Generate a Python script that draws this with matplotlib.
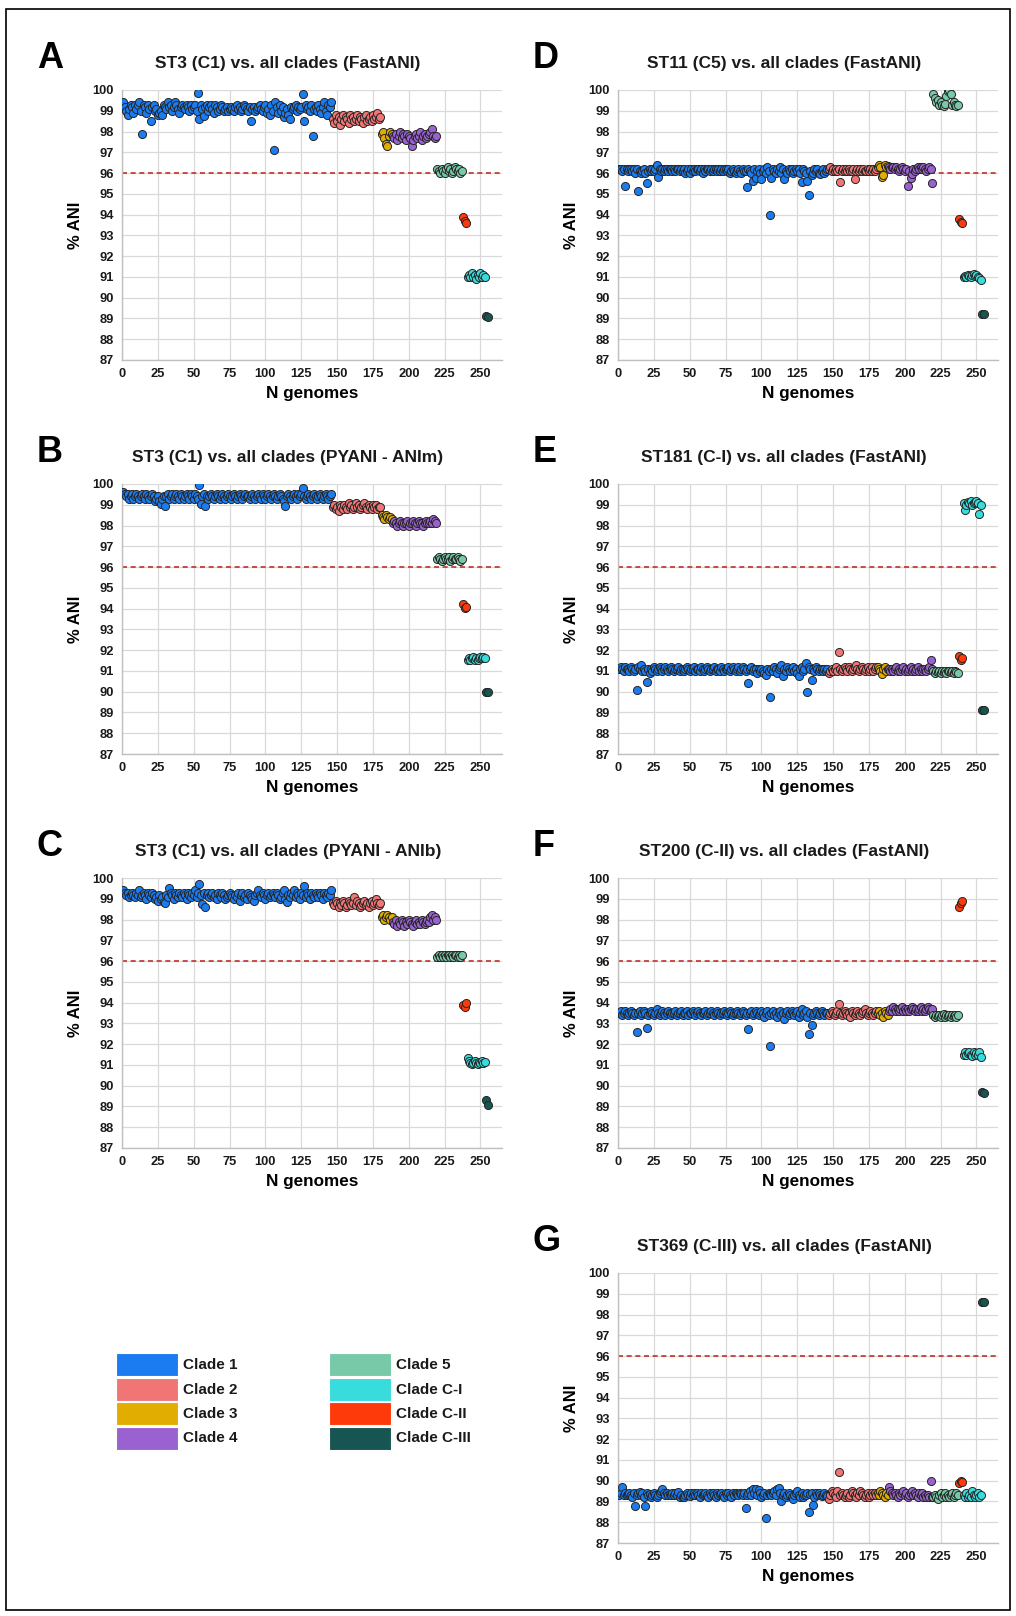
import matplotlib
matplotlib.use("Agg")
import matplotlib.pyplot as plt
import numpy as np
from matplotlib.patches import Rectangle

plt.rcParams['font.family'] = ['Liberation Sans', 'DejaVu Sans']

W, H = 1016, 1616

clades = ["Clade 1", "Clade 2", "Clade 3", "Clade 4", "Clade 5", "Clade C-I", "Clade C-II", "Clade C-III"]
# order of the genomes along x: 1, 2, 3, 4, 5, C-II, C-I, C-III
x_order = ["Clade 1", "Clade 2", "Clade 3", "Clade 4", "Clade 5", "Clade C-II", "Clade C-I", "Clade C-III"]
colors = {"Clade 1": "#1a7cf0", "Clade 2": "#f07575", "Clade 3": "#e0ad00", "Clade 4": "#9a62d0",
          "Clade 5": "#78c9a8", "Clade C-I": "#38dcdc", "Clade C-II": "#ff3a0a", "Clade C-III": "#175552"}

titles = {
    "A": "ST3 (C1) vs. all clades (FastANI)",
    "B": "ST3 (C1) vs. all clades (PYANI - ANIm)",
    "C": "ST3 (C1) vs. all clades (PYANI - ANIb)",
    "D": "ST11 (C5) vs. all clades (FastANI)",
    "E": "ST181 (C-I) vs. all clades (FastANI)",
    "F": "ST200 (C-II) vs. all clades (FastANI)",
    "G": "ST369 (C-III) vs. all clades (FastANI)",
}

# % ANI per clade (in x order)
ani_A = [
    [99.4, 99.2, 99.0, 98.8, 99.1, 99.3, 99.2, 98.9, 99.3, 99.1, 99.3, 99.4, 99.0, 97.9, 99.3,
     99.2, 98.9, 99.3, 99.1, 98.5, 99.2, 99.3, 99.0, 99.1, 98.8, 98.9, 99.0, 98.8, 99.3, 99.2,
     99.1, 99.4, 99.2, 99.3, 99.0, 99.2, 99.4, 99.3, 99.1, 98.9, 99.2, 99.3, 99.2, 99.1, 99.3,
     99.2, 99.0, 99.3, 99.1, 99.2, 99.3, 99.0, 99.85, 98.6, 99.3, 99.1, 98.75, 99.2, 99.3, 99.0,
     99.2, 99.3, 99.1, 98.9, 99.3, 99.2, 99.0, 99.1, 99.3, 99.2, 99.0, 99.1, 99.2, 99.0, 99.1,
     99.2, 99.1, 99.0, 99.2, 99.3, 99.1, 99.2, 99.0, 99.1, 99.3, 99.2, 99.1, 99.0, 99.2, 98.5,
     99.1, 99.2, 99.0, 99.1, 99.2, 99.3, 99.1, 99.0, 99.2, 99.3, 98.9, 99.1, 98.8, 99.3, 99.0,
     97.1, 99.4, 99.2, 98.9, 99.3, 99.0, 99.2, 98.7, 98.9, 99.1, 98.8, 98.6, 99.2, 99.1, 99.2,
     99.3, 99.0, 99.2, 99.1, 99.2, 99.8, 98.5, 99.3, 99.1, 99.2, 99.0, 99.3, 97.8, 99.1, 99.2,
     99.0, 99.3, 99.1, 98.9, 99.2, 99.4, 99.0, 98.8, 99.3, 99.2, 99.4],
    [98.6, 98.4, 98.8, 98.5, 98.7, 98.3, 98.6, 98.8, 98.5, 98.7, 98.6, 98.4, 98.8, 98.6, 98.7,
     98.5, 98.6, 98.8, 98.5, 98.7, 98.6, 98.4, 98.7, 98.8, 98.5, 98.6, 98.7, 98.5, 98.8, 98.6,
     98.7, 98.9, 98.6, 98.7],
    [97.9, 98.0, 97.7, 97.4, 97.3, 97.8, 98.0, 97.9],
    [97.8, 97.7, 97.9, 97.6, 97.8, 98.0, 97.7, 97.9, 97.8, 97.6, 97.9, 97.8, 97.7, 97.3, 97.6,
     97.8, 97.9, 97.7, 97.8, 98.0, 97.6, 97.8, 97.9, 97.7, 97.8, 97.9, 98.0, 98.1, 97.8, 97.7, 97.8],
    [96.2, 96.1, 96.0, 96.2, 96.1, 96.0, 96.2, 96.3, 96.1, 96.2, 96.0, 96.1, 96.3, 96.2, 96.1,
     96.2, 96.0, 96.1],
    [93.9, 93.7, 93.6],
    [91.0, 91.1, 91.0, 91.2, 91.0, 91.1, 90.9, 91.1, 91.0, 91.2, 91.0, 91.1, 91.0],
    [89.1, 89.05],
]

ani_B = [
    [99.6, 99.5, 99.4, 99.5, 99.3, 99.4, 99.5, 99.3, 99.4, 99.5, 99.4, 99.3, 99.4, 99.5, 99.4,
     99.3, 99.5, 99.4, 99.3, 99.4, 99.5, 99.4, 99.2, 99.3, 99.4, 99.2, 99.05, 99.3, 99.4, 98.95,
     99.4, 99.5, 99.3, 99.4, 99.5, 99.3, 99.4, 99.5, 99.4, 99.3, 99.5, 99.4, 99.3, 99.4, 99.5,
     99.4, 99.3, 99.5, 99.4, 99.3, 99.5, 99.4, 99.3, 99.95, 99.05, 99.4, 99.5, 98.95, 99.4, 99.3,
     99.4, 99.5, 99.4, 99.3, 99.4, 99.5, 99.4, 99.3, 99.4, 99.5, 99.4, 99.3, 99.4, 99.5, 99.4,
     99.3, 99.4, 99.5, 99.4, 99.3, 99.4, 99.5, 99.4, 99.3, 99.4, 99.5, 99.4, 99.4, 99.3, 99.4,
     99.5, 99.4, 99.3, 99.4, 99.5, 99.4, 99.3, 99.5, 99.4, 99.3, 99.4, 99.5, 99.4, 99.3, 99.4,
     99.5, 99.4, 99.3, 99.4, 99.5, 99.4, 99.3, 99.2, 98.95, 99.4, 99.5, 99.4, 99.3, 99.4, 99.5,
     99.4, 99.3, 99.5, 99.4, 99.5, 99.8, 99.4, 99.3, 99.4, 99.5, 99.4, 99.3, 99.4, 99.5, 99.4,
     99.3, 99.4, 99.5, 99.4, 99.3, 99.4, 99.5, 99.4, 99.3, 99.4, 99.5],
    [98.9, 99.0, 98.8, 98.9, 98.7, 99.0, 98.9, 98.8, 99.0, 98.9, 98.8, 99.1, 98.9, 99.0, 98.8,
     98.9, 99.1, 98.9, 99.0, 98.8, 98.9, 99.0, 99.1, 98.9, 98.8, 99.0, 98.9, 98.8, 99.0, 98.9,
     99.0, 98.8, 98.9, 98.9],
    [98.5, 98.4, 98.3, 98.5, 98.4, 98.3, 98.4, 98.3],
    [98.1, 98.2, 98.1, 98.0, 98.1, 98.2, 98.1, 98.0, 98.1, 98.1, 98.2, 98.0, 98.1, 98.1, 98.2,
     98.1, 98.0, 98.1, 98.2, 98.1, 98.1, 98.0, 98.1, 98.2, 98.1, 98.1, 98.2, 98.1, 98.3, 98.2, 98.1],
    [96.4, 96.5, 96.4, 96.3, 96.4, 96.5, 96.4, 96.4, 96.5, 96.3, 96.4, 96.5, 96.4, 96.4, 96.5,
     96.4, 96.3, 96.4],
    [94.2, 94.05, 94.1],
    [91.55, 91.6, 91.55, 91.6, 91.65, 91.55, 91.6, 91.55, 91.6, 91.65, 91.6, 91.65, 91.6],
    [90.0, 90.0],
]

ani_C = [
    [99.4, 99.3, 99.2, 99.3, 99.1, 99.2, 99.3, 99.2, 99.1, 99.3, 99.2, 99.4, 99.1, 99.2, 99.3,
     99.2, 99.0, 99.3, 99.2, 99.1, 99.3, 99.2, 99.0, 99.1, 98.9, 99.2, 99.0, 99.1, 98.85, 98.8,
     99.2, 99.1, 99.5, 99.3, 99.2, 99.0, 99.3, 99.2, 99.1, 99.3, 99.2, 99.1, 99.3, 99.2, 99.0,
     99.3, 99.2, 99.1, 99.3, 99.2, 99.4, 99.1, 99.3, 99.7, 99.2, 98.75, 99.3, 98.6, 99.2, 99.3,
     99.1, 99.2, 99.3, 99.1, 99.2, 99.0, 99.3, 99.2, 99.1, 99.3, 99.2, 99.0, 99.1, 99.2, 99.3,
     99.2, 99.1, 99.0, 99.2, 99.1, 99.3, 98.9, 99.2, 99.3, 99.1, 99.2, 99.0, 99.3, 99.2, 99.1,
     99.0, 98.9, 99.2, 99.3, 99.4, 99.2, 99.1, 99.3, 99.2, 99.0, 99.2, 99.3, 99.1, 99.2, 99.3,
     99.2, 99.1, 99.3, 99.2, 99.0, 99.1, 99.3, 99.4, 99.0, 98.85, 99.2, 99.1, 99.3, 99.2, 99.4,
     99.1, 99.3, 99.2, 99.0, 99.3, 99.2, 99.6, 99.1, 99.3, 99.2, 99.0, 99.3, 99.2, 99.1, 99.3,
     99.2, 99.1, 99.3, 99.2, 99.0, 99.3, 99.2, 99.1, 99.3, 99.2, 99.4],
    [98.8, 98.7, 98.9, 98.8, 98.6, 98.8, 98.7, 98.9, 98.8, 98.6, 98.7, 98.9, 98.8, 98.7, 98.8,
     99.1, 98.7, 98.9, 98.8, 98.6, 98.7, 98.8, 98.9, 98.7, 98.8, 98.6, 98.8, 98.9, 98.7, 98.8,
     99.0, 98.8, 98.7, 98.8],
    [98.1, 98.2, 98.0, 98.1, 98.2, 98.1, 98.0, 98.1],
    [97.9, 97.8, 98.0, 97.7, 97.9, 97.8, 98.0, 97.9, 97.7, 97.9, 97.8, 98.0, 97.9, 97.8, 97.7,
     97.9, 98.0, 97.8, 97.9, 97.8, 98.0, 97.9, 97.8, 97.9, 98.0, 97.9, 98.1, 98.2, 98.0, 98.1, 98.0],
    [96.2, 96.3, 96.2, 96.3, 96.2, 96.3, 96.2, 96.3, 96.3, 96.2, 96.3, 96.2, 96.3, 96.3, 96.2,
     96.3, 96.2, 96.3],
    [93.9, 93.8, 94.0],
    [91.35, 91.2, 91.1, 91.05, 91.1, 91.2, 91.1, 91.05, 91.15, 91.1, 91.2, 91.1, 91.15],
    [89.3, 89.05],
]

ani_D = [
    [96.2, 96.2, 96.1, 96.2, 95.4, 96.2, 96.1, 96.2, 96.2, 96.1, 96.2, 96.0, 96.2, 95.15, 96.1,
     96.0, 96.1, 96.2, 96.0, 95.5, 96.1, 96.2, 96.1, 96.2, 96.1, 96.2, 96.4, 95.8, 96.2, 96.1,
     96.2, 96.1, 96.2, 96.2, 96.1, 96.2, 96.2, 96.1, 96.2, 96.1, 96.2, 96.2, 96.1, 96.2, 96.1,
     96.2, 96.0, 96.1, 96.2, 96.0, 96.2, 96.1, 96.2, 96.1, 96.2, 96.2, 96.1, 96.2, 96.0, 96.2,
     96.1, 96.2, 96.2, 96.1, 96.2, 96.1, 96.2, 96.2, 96.1, 96.2, 96.1, 96.2, 96.1, 96.2, 96.2,
     96.1, 96.2, 96.0, 96.1, 96.2, 96.1, 96.0, 96.1, 96.2, 96.1, 96.0, 96.2, 96.1, 96.1, 95.35,
     96.2, 96.1, 96.0, 95.6, 96.2, 95.75, 96.1, 96.2, 96.0, 95.7, 96.1, 96.2, 96.0, 96.3, 96.1,
     94.0, 95.75, 96.2, 96.1, 96.0, 96.2, 96.1, 96.3, 96.0, 96.2, 95.7, 96.1, 96.0, 96.2, 96.1,
     96.2, 96.0, 96.1, 96.2, 96.1, 96.2, 96.0, 95.55, 96.2, 96.1, 96.0, 95.6, 94.95, 96.1, 95.9,
     96.0, 96.2, 96.1, 96.2, 96.0, 95.95, 96.1, 96.2, 96.0, 96.1, 96.2],
    [96.2, 96.3, 96.1, 96.2, 96.1, 96.2, 96.1, 96.2, 95.55, 96.1, 96.2, 96.1, 96.2, 96.1, 96.2,
     96.1, 96.1, 96.2, 95.7, 96.1, 96.2, 96.1, 96.2, 96.1, 96.2, 96.1, 96.1, 96.2, 96.1, 96.2,
     96.1, 96.2, 96.1, 96.2],
    [96.3, 96.4, 96.3, 95.8, 95.9, 96.4, 96.3, 96.35],
    [96.3, 96.2, 96.3, 96.3, 96.2, 96.3, 96.2, 96.1, 96.2, 96.3, 96.2, 96.1, 96.2, 95.4, 96.1,
     95.75, 95.95, 96.2, 96.1, 96.2, 96.3, 96.2, 96.3, 96.2, 96.3, 96.2, 96.1, 96.2, 96.3, 96.2, 95.5],
    [99.8, 99.6, 99.4, 99.5, 99.3, 99.4, 99.3, 99.25, 99.35, 99.7, 99.95, 100.0, 99.8, 99.3, 99.4,
     99.3, 99.25, 99.3],
    [93.8, 93.65, 93.6],
    [91.0, 91.05, 91.0, 91.1, 91.05, 91.0, 91.1, 91.15, 91.05, 91.1, 91.0, 90.95, 90.85],
    [89.2, 89.2],
]

ani_E = [
    [91.1, 91.2, 91.1, 91.0, 91.2, 91.1, 91.1, 91.0, 91.2, 91.1, 91.0, 91.1, 90.1, 91.2, 91.1,
     91.3, 91.0, 91.1, 91.0, 90.45, 91.1, 90.9, 91.1, 91.0, 91.2, 91.1, 91.0, 91.1, 91.2, 91.1,
     91.0, 91.1, 91.2, 91.1, 91.0, 91.1, 91.2, 91.1, 91.0, 91.1, 91.1, 91.2, 91.0, 91.1, 91.1,
     91.0, 91.1, 91.2, 91.1, 91.0, 91.1, 91.1, 91.2, 91.0, 91.1, 91.1, 91.0, 91.2, 91.1, 91.0,
     91.1, 91.2, 91.1, 91.0, 91.1, 91.1, 91.2, 91.0, 91.1, 91.1, 91.0, 91.2, 91.1, 91.0, 91.1,
     91.1, 91.2, 91.0, 91.1, 91.2, 91.1, 91.0, 91.1, 91.2, 91.0, 91.1, 91.2, 91.1, 91.0, 91.1,
     90.4, 91.1, 91.2, 91.0, 91.1, 91.1, 90.9, 91.1, 91.0, 91.1, 91.0, 90.9, 90.8, 91.1, 91.0,
     89.75, 91.1, 91.0, 91.2, 91.1, 90.9, 91.1, 91.2, 91.3, 90.75, 91.1, 91.0, 91.2, 91.1, 91.0,
     91.1, 91.2, 91.0, 91.1, 90.9, 90.75, 91.1, 91.2, 91.0, 91.1, 91.4, 90.0, 91.2, 91.1, 90.55,
     91.1, 91.0, 91.2, 91.1, 91.0, 91.1, 91.1, 91.0, 91.1, 91.0, 91.1],
    [90.9, 91.0, 91.1, 91.0, 91.1, 91.2, 91.0, 91.9, 91.1, 91.0, 91.1, 91.2, 91.1, 91.0, 91.2,
     91.1, 91.0, 91.1, 91.2, 91.3, 91.1, 91.0, 91.1, 91.2, 91.1, 91.0, 91.1, 91.2, 91.0, 91.1,
     91.2, 91.0, 91.1, 91.2],
    [91.2, 91.1, 91.0, 90.85, 91.1, 91.2, 91.0, 91.1],
    [91.1, 91.0, 91.1, 91.0, 91.1, 91.2, 91.0, 91.1, 91.0, 91.1, 91.2, 91.0, 91.1, 91.0, 91.1,
     91.2, 91.0, 91.1, 91.0, 91.1, 91.2, 91.0, 91.1, 91.0, 91.1, 91.1, 91.0, 91.1, 91.2, 91.55, 91.1],
    [91.0, 90.9, 91.0, 90.95, 91.0, 90.9, 91.0, 90.95, 91.0, 90.9, 91.0, 91.0, 90.95, 91.0, 90.9,
     91.0, 90.95, 90.9],
    [91.7, 91.55, 91.6],
    [99.1, 98.75, 99.0, 99.15, 99.1, 99.2, 99.0, 99.1, 99.15, 99.2, 99.1, 98.55, 99.0],
    [89.1, 89.1],
]

ani_F = [
    [93.5, 93.6, 93.4, 93.5, 93.6, 93.5, 93.4, 93.5, 93.6, 93.5, 93.4, 93.5, 92.6, 93.5, 93.6,
     93.4, 93.5, 93.6, 93.5, 92.8, 93.4, 93.5, 93.6, 93.5, 93.4, 93.5, 93.7, 93.5, 93.4, 93.5,
     93.6, 93.5, 93.4, 93.5, 93.6, 93.5, 93.4, 93.5, 93.5, 93.6, 93.4, 93.5, 93.5, 93.6, 93.4,
     93.5, 93.5, 93.6, 93.4, 93.5, 93.5, 93.6, 93.5, 93.4, 93.5, 93.6, 93.5, 93.4, 93.5, 93.5,
     93.6, 93.4, 93.5, 93.5, 93.6, 93.5, 93.4, 93.5, 93.6, 93.5, 93.4, 93.5, 93.5, 93.6, 93.5,
     93.4, 93.5, 93.6, 93.5, 93.4, 93.5, 93.5, 93.6, 93.5, 93.4, 93.5, 93.6, 93.5, 93.4, 93.5,
     92.75, 93.5, 93.6, 93.4, 93.5, 93.6, 93.5, 93.4, 93.5, 93.6, 93.5, 93.3, 93.5, 93.6, 93.4,
     91.9, 93.5, 93.6, 93.4, 93.5, 93.3, 93.5, 93.6, 93.4, 93.5, 93.2, 93.5, 93.6, 93.4, 93.5,
     93.6, 93.5, 93.4, 93.5, 93.6, 93.3, 93.5, 93.7, 93.4, 93.5, 93.6, 93.3, 92.5, 93.5, 92.9,
     93.4, 93.5, 93.6, 93.5, 93.4, 93.5, 93.6, 93.5, 93.4, 93.5, 93.5],
    [93.4, 93.5, 93.6, 93.5, 93.4, 93.5, 93.6, 93.95, 93.5, 93.4, 93.5, 93.6, 93.5, 93.4, 93.5,
     93.3, 93.6, 93.5, 93.4, 93.5, 93.6, 93.5, 93.4, 93.5, 93.6, 93.7, 93.5, 93.4, 93.5, 93.6,
     93.5, 93.4, 93.5, 93.6],
    [93.5, 93.6, 93.4, 93.5, 93.3, 93.6, 93.5, 93.4],
    [93.6, 93.7, 93.6, 93.8, 93.7, 93.6, 93.7, 93.6, 93.7, 93.8, 93.6, 93.7, 93.6, 93.7, 93.6,
     93.7, 93.8, 93.7, 93.6, 93.7, 93.6, 93.7, 93.8, 93.6, 93.7, 93.6, 93.7, 93.8, 93.7, 93.6, 93.7],
    [93.4, 93.3, 93.4, 93.35, 93.4, 93.3, 93.4, 93.45, 93.3, 93.4, 93.35, 93.4, 93.3, 93.4, 93.35,
     93.4, 93.3, 93.4],
    [98.6, 98.8, 98.9],
    [91.5, 91.6, 91.5, 91.55, 91.6, 91.5, 91.45, 91.6, 91.5, 91.55, 91.5, 91.6, 91.4],
    [89.7, 89.65],
]

ani_G = [
    [89.3, 89.4, 89.7, 89.3, 89.4, 89.3, 89.35, 89.4, 89.3, 89.2, 89.4, 88.8, 89.3, 89.4, 89.45,
     89.3, 89.4, 89.2, 88.8, 89.4, 89.3, 89.35, 89.2, 89.3, 89.4, 89.3, 89.2, 89.3, 89.4, 89.5,
     89.6, 89.4, 89.3, 89.4, 89.3, 89.35, 89.3, 89.4, 89.3, 89.4, 89.3, 89.45, 89.2, 89.3, 89.2,
     89.2, 89.3, 89.4, 89.3, 89.25, 89.4, 89.3, 89.4, 89.3, 89.4, 89.3, 89.2, 89.4, 89.3, 89.35,
     89.4, 89.3, 89.2, 89.4, 89.3, 89.4, 89.3, 89.2, 89.4, 89.3, 89.35, 89.4, 89.3, 89.2, 89.4,
     89.3, 89.4, 89.3, 89.2, 89.4, 89.3, 89.4, 89.35, 89.3, 89.4, 89.35, 89.3, 89.4, 88.7, 89.3,
     89.4, 89.5, 89.3, 89.6, 89.4, 89.6, 89.3, 89.55, 89.4, 89.2, 89.3, 89.4, 88.2, 89.3, 89.4,
     89.35, 89.3, 89.4, 89.5, 89.3, 89.6, 89.65, 89.4, 89.0, 89.3, 89.4, 89.2, 89.3, 89.4, 89.3,
     89.2, 89.1, 89.3, 89.4, 89.5, 89.3, 89.2, 89.4, 89.2, 89.3, 89.3, 89.4, 88.5, 89.35, 89.4,
     88.85, 89.2, 89.4, 89.3, 89.4, 89.3, 89.25, 89.3, 89.4, 89.3, 89.25],
    [89.1, 89.3, 89.5, 89.4, 89.3, 89.2, 89.5, 90.4, 89.3, 89.4, 89.3, 89.2, 89.3, 89.4, 89.2,
     89.3, 89.5, 89.4, 89.3, 89.2, 89.4, 89.3, 89.5, 89.4, 89.3, 89.2, 89.3, 89.4, 89.2, 89.3,
     89.4, 89.3, 89.4, 89.3],
    [89.4, 89.3, 89.5, 89.4, 89.3, 89.2, 89.4, 89.3],
    [89.7, 89.5, 89.4, 89.3, 89.4, 89.3, 89.2, 89.4, 89.3, 89.4, 89.5, 89.3, 89.4, 89.2, 89.3,
     89.4, 89.5, 89.3, 89.4, 89.3, 89.2, 89.4, 89.3, 89.4, 89.2, 89.3, 89.2, 89.3, 89.2, 90.0, 89.2],
    [89.2, 89.3, 89.2, 89.1, 89.3, 89.4, 89.2, 89.3, 89.4, 89.2, 89.3, 89.2, 89.3, 89.4, 89.2,
     89.3, 89.4, 89.3],
    [89.9, 90.0, 89.95],
    [89.3, 89.2, 89.4, 89.2, 89.3, 89.2, 89.5, 89.3, 89.2, 89.3, 89.4, 89.2, 89.3],
    [98.6, 98.6],
]

panels = {"A": ani_A, "B": ani_B, "C": ani_C, "D": ani_D, "E": ani_E, "F": ani_F, "G": ani_G}

# axes placement in pixels: (left, top)
ax_w, ax_h = 380, 270
pos = {"A": (122, 90), "B": (122, 484), "C": (122, 878),
       "D": (618, 90), "E": (618, 484), "F": (618, 878), "G": (618, 1273)}

fig = plt.figure(figsize=(W / 100, H / 100), dpi=100)


def draw_panel(key, vals):
    l, t = pos[key]
    ax = fig.add_axes([l / W, 1 - (t + ax_h) / H, ax_w / W, ax_h / H])
    start = 1
    for name, ys in zip(x_order, vals):
        xs = np.arange(start, start + len(ys))
        ax.scatter(xs, ys, s=34, color=colors[name], edgecolor="#262626", linewidth=0.7, zorder=3)
        start += len(ys)
    ax.axhline(96, color="#c0302a", lw=1.2, ls=(0, (3, 2.2)), zorder=2)
    ax.set_xlim(0, 265)
    ax.set_ylim(87, 100)
    ax.set_xticks(np.arange(0, 251, 25))
    ax.set_yticks(np.arange(87, 101, 1))
    ax.grid(True, color="#d9d9d9", lw=0.9, zorder=0)
    ax.set_axisbelow(True)
    for s in ["top", "right"]:
        ax.spines[s].set_visible(False)
    for s in ["left", "bottom"]:
        ax.spines[s].set_color("#bfbfbf")
        ax.spines[s].set_linewidth(1.0)
    ax.tick_params(length=0, labelsize=9.3, colors="#1a1a1a", pad=6)
    for lab in ax.get_xticklabels() + ax.get_yticklabels():
        lab.set_fontweight("bold")
    ax.set_xlabel("N genomes", fontsize=12.3, fontweight="bold", labelpad=4)
    ax.set_ylabel("% ANI", fontsize=12, fontweight="bold", labelpad=7)
    fig.text((l + 166) / W, 1 - (t - 22) / H, titles[key], ha="center", va="baseline",
             fontsize=12.5, fontweight="bold", color="#1a1a1a")
    fig.text((l - 85) / W, 1 - (t - 22) / H, key, ha="left", va="baseline",
             fontsize=26, fontweight="bold", color="black")


for key, vals in panels.items():
    draw_panel(key, vals)

# legend and border drawn on an overlay in pixel coordinates
ov = fig.add_axes([0, 0, 1, 1], zorder=-1)
ov.set_xlim(0, W)
ov.set_ylim(H, 0)
ov.axis("off")
ov.add_patch(Rectangle((6, 9), 1004, 1601, fill=False, edgecolor="black", lw=1.2))

leg_cols = [(116, clades[:4]), (329, clades[4:])]
for x0, names in leg_cols:
    for i, name in enumerate(names):
        y0 = 1353 + i * 24.5
        ov.add_patch(Rectangle((x0, y0), 62, 23, facecolor=colors[name], edgecolor="white", lw=0.8))
        ov.text(x0 + 67, y0 + 12, name, ha="left", va="center", fontsize=11, fontweight="bold",
                color="#1a1a1a")

fig.savefig("out.png", dpi=100)
